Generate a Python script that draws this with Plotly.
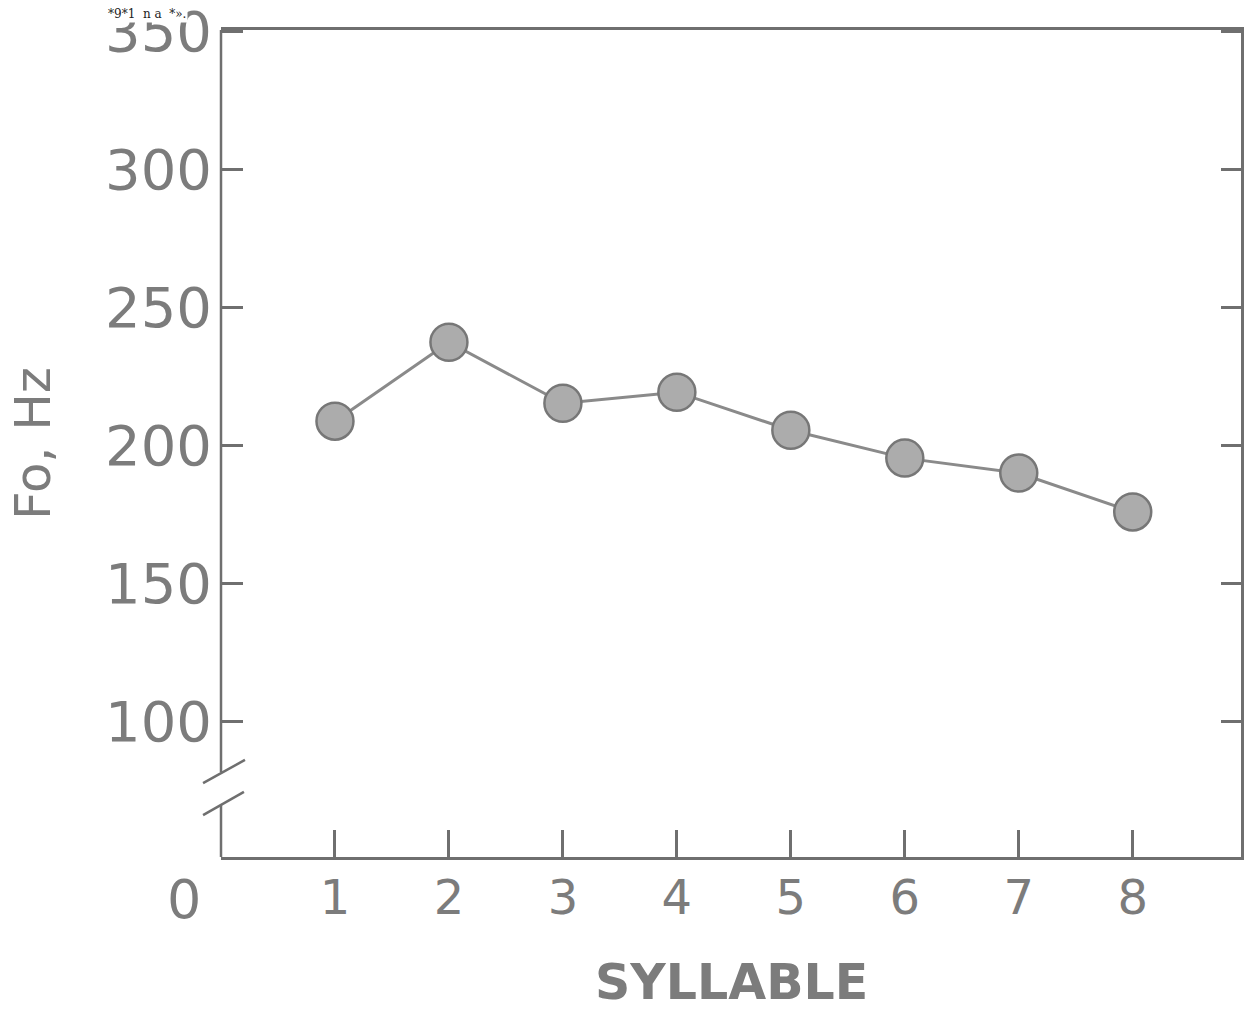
import plotly.graph_objects as go

syllables = [1, 2, 3, 4, 5, 6, 7, 8]
fo_hz = [208.7, 237.3, 215.2, 219.2, 205.4, 195.3, 189.9, 175.8]
y_ticks = [100, 150, 200, 250, 300, 350]
x_ticks = [1, 2, 3, 4, 5, 6, 7, 8]

Y_MIN, Y_MAX = 50.7, 350.5
X_MIN, X_MAX = 0, 8.95

ink = "#7c7c7c"
font_family = "DejaVu Sans"

fig = go.Figure()
fig.add_trace(go.Scatter(
    x=syllables, y=fo_hz, mode="lines+markers",
    line=dict(color="#8a8a8a", width=3),
    marker=dict(size=37, color="#acacac", line=dict(color="#777777", width=2.5)),
    showlegend=False, hoverinfo="skip",
))
# invisible trace to activate right-hand tick axis
fig.add_trace(go.Scatter(x=[None], y=[None], yaxis="y2", showlegend=False))

fig.update_layout(
    width=1253, height=1015,
    margin=dict(l=221, r=12, t=30, b=158),
    paper_bgcolor="white", plot_bgcolor="white",
    font=dict(family=font_family, color=ink),
    xaxis=dict(
        range=[X_MIN, X_MAX], tickvals=x_ticks, ticktext=[str(t) for t in x_ticks],
        showgrid=False, zeroline=False, automargin=False,
        showline=True, mirror=True, linecolor="#6f6f6f", linewidth=2.5,
        ticks="inside", ticklen=27, tickwidth=2.5, tickcolor="#6f6f6f",
        tickfont=dict(size=48, color=ink, family=font_family),
        ticklabelstandoff=-3,
    ),
    yaxis=dict(
        range=[Y_MIN, Y_MAX], tickvals=y_ticks, ticktext=[str(t) for t in y_ticks],
        showgrid=False, zeroline=False, showline=False, automargin="left",
        ticks="inside", ticklen=22, tickwidth=2.5, tickcolor="#6f6f6f",
        tickfont=dict(size=56, color=ink, family=font_family),
        ticklabelstandoff=8, ticklabeloverflow="allow",
        title=dict(text="Fo, Hz", font=dict(size=50, color=ink, family=font_family), standoff=38),
    ),
    yaxis2=dict(
        range=[Y_MIN, Y_MAX], tickvals=y_ticks, overlaying="y", side="right",
        showgrid=False, zeroline=False, showline=True, linecolor="#6f6f6f", linewidth=2.5,
        ticks="inside", ticklen=20, tickwidth=2.5, tickcolor="#6f6f6f",
        showticklabels=False, automargin=False,
    ),
)

axis_line = dict(color="#6f6f6f", width=2.5)
# left axis with a break
fig.add_shape(type="line", xref="paper", yref="y", x0=0, x1=0, y0=81.5, y1=Y_MAX, line=axis_line)
fig.add_shape(type="line", xref="paper", yref="y", x0=0, x1=0, y0=Y_MIN, y1=69.5, line=axis_line)
fig.add_shape(type="line", xref="paper", yref="y", x0=-0.0176, x1=0.0235, y0=77.5, y1=85.9, line=axis_line)
fig.add_shape(type="line", xref="paper", yref="y", x0=-0.0176, x1=0.0225, y0=65.9, y1=74.3, line=axis_line)

# x-axis title
fig.add_annotation(x=0.5, xref="paper", y=0, yref="paper", text="<b>SYLLABLE</b>", showarrow=False,
                   yanchor="middle", yshift=-125,
                   font=dict(size=49, color=ink, family=font_family))
# origin label
fig.add_annotation(x=0, xref="x", y=0, yref="paper", text="0", showarrow=False,
                   xshift=-37, yshift=-42, yanchor="middle",
                   font=dict(size=54, color=ink, family=font_family))
# scanner artifact text at the top-left
fig.add_annotation(x=-0.113, xref="paper", y=1, yref="paper", yshift=16, xanchor="left",
                   yanchor="middle", text="*9*1  n a  *».", showarrow=False, bgcolor="white",
                   font=dict(size=12, color="#222222", family="DejaVu Serif"))

fig.write_html("out.html")
